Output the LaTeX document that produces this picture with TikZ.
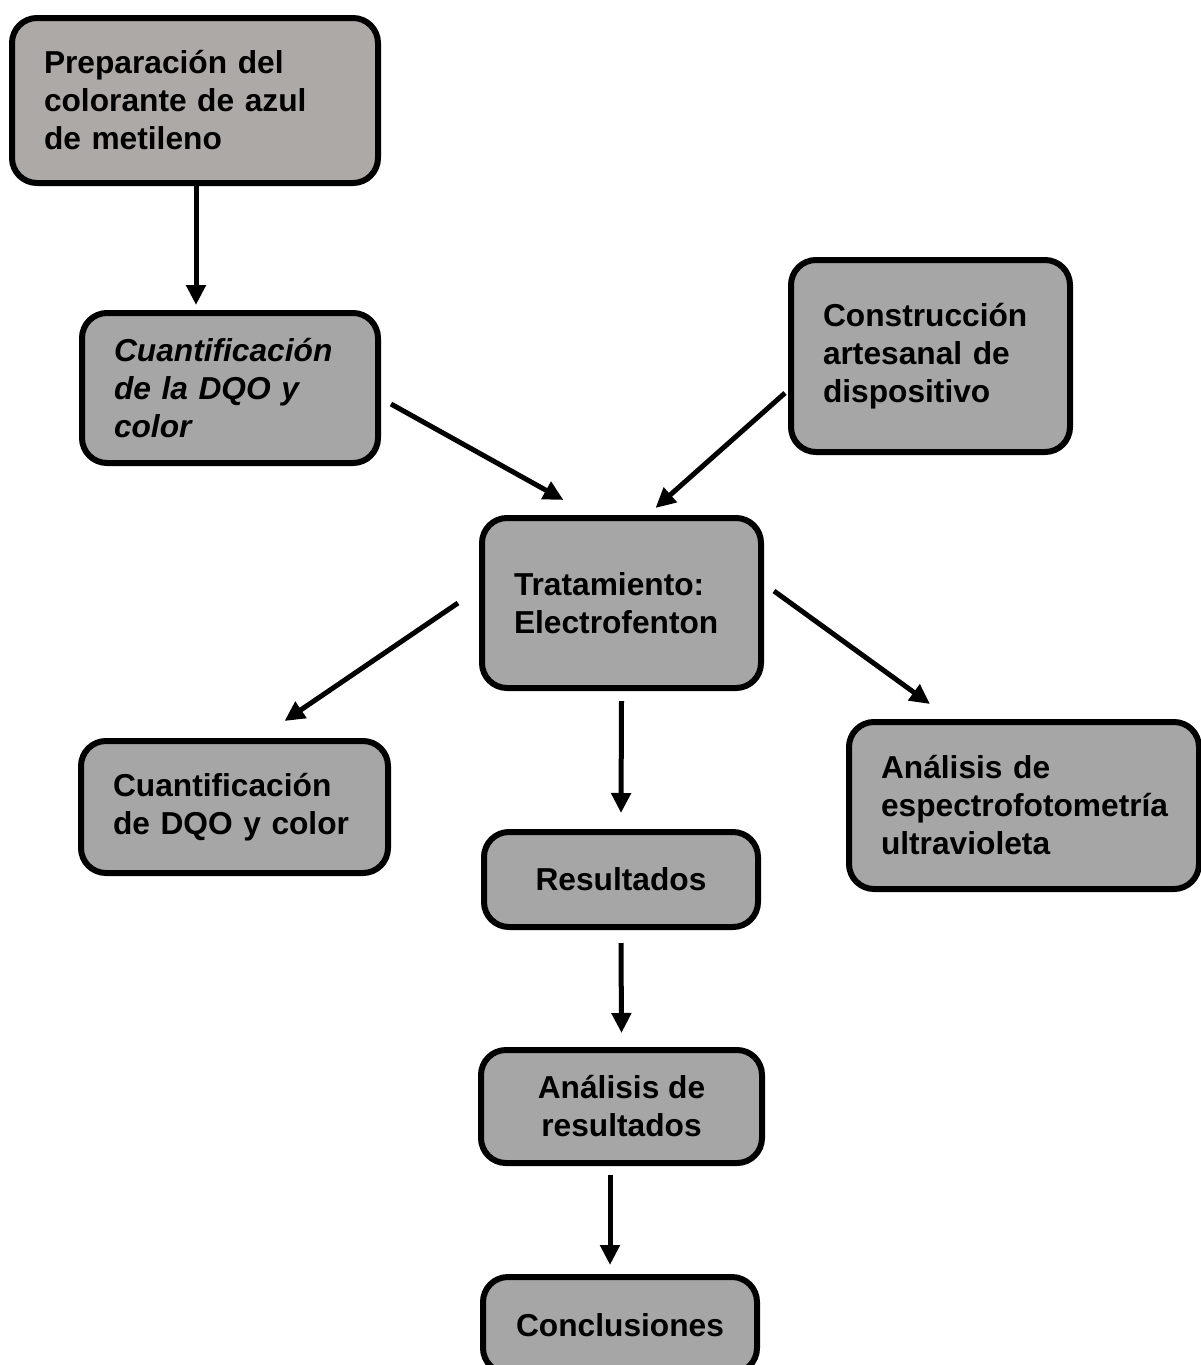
\documentclass[tikz,border=0pt]{standalone}
\usepackage{fontspec}
\setmainfont{Liberation Sans}
\usepackage{tikz}
\usetikzlibrary{arrows.meta}
\usetikzlibrary{positioning}

\definecolor{boxgray}{RGB}{166,166,166}
\definecolor{prepgray}{RGB}{173,169,167}

\begin{document}
\begin{tikzpicture}[x=1pt,y=-1pt,
      box/.style={draw=black, line width=6pt, rounded corners=25pt, fill=boxgray,
        font=\fontsize{31.7}{38}\selectfont\bfseries, inner ysep=0pt},
      lbox/.style={box, align=left, inner xsep=32pt},
      cbox/.style={box, align=center},
      arr/.style={-{Triangle[length=20pt,width=19pt]}, line width=5pt},
      ]
      \useasboundingbox (0,0) rectangle (1201,1365);
      % boxes
      \node[lbox, fill=prepgray, minimum width=366pt, minimum height=165pt, text width=302pt]
        (prep) at (195,100.5) {Preparación del\\colorante de azul\\de metileno};
      \node[lbox, minimum width=296pt, minimum height=150pt, text width=232pt, font=\fontsize{31.7}{38}\selectfont\bfseries\itshape]
        (cuant) at (230,388) {Cuantificación\\de la DQO y\\color};
      \node[lbox, minimum width=279pt, minimum height=192pt, text width=215pt]
        (cons) at (930.5,356) {Construcción\\artesanal de\\dispositivo};
      \node[lbox, minimum width=277pt, minimum height=170pt, text width=215pt]
        (trat) at (621.5,603) {Tratamiento:\\Electrofenton};
      \node[lbox, minimum width=305pt, minimum height=132pt, text width=243pt]
        (dqo) at (234.5,807) {Cuantificación\\de DQO y color};
      \node[cbox, minimum width=274pt, minimum height=95pt]
        (res) at (621,879.5) {Resultados};
      \node[lbox, minimum width=350pt, minimum height=167pt, text width=286pt]
        (espec) at (1024,805.5) {Análisis de\\espectrofotometría\\ultravioleta};
      \node[cbox, minimum width=281pt, minimum height=113pt]
        (anres) at (621.5,1106.5) {Análisis de\\resultados};
      \node[cbox, minimum width=274pt, minimum height=96pt]
        (concl) at (620,1325) {Conclusiones};
      % arrows
      \draw[arr] ([xshift=1pt,yshift=5pt]prep.south) -- ([xshift=1pt,yshift=5pt]prep.south |- cuant.north);
      \draw[arr] ([xshift=10pt,yshift=-16pt]cuant.east) -- ([xshift=-58pt,yshift=15pt]trat.north);
      \draw[arr] ([xshift=-3pt,yshift=-37pt]cons.west) -- ([xshift=34pt,yshift=7pt]trat.north);
      \draw[arr] ([xshift=-21pt]trat.west) -- ([xshift=50pt,yshift=17pt]dqo.north);
      \draw[arr] ([yshift=-10pt]trat.south) -- ([yshift=16pt]res.north);
      \draw[arr] ([xshift=10pt,yshift=12pt]trat.east) -- ([xshift=-94pt,yshift=15pt]espec.north);
      \draw[arr] ([yshift=-13pt]res.south) -- ([yshift=14pt]anres.north);
      \draw[arr] ([xshift=-11.5pt,yshift=-9pt]anres.south) -- ([xshift=-10pt,yshift=9pt]concl.north);
\end{tikzpicture}
\end{document}
